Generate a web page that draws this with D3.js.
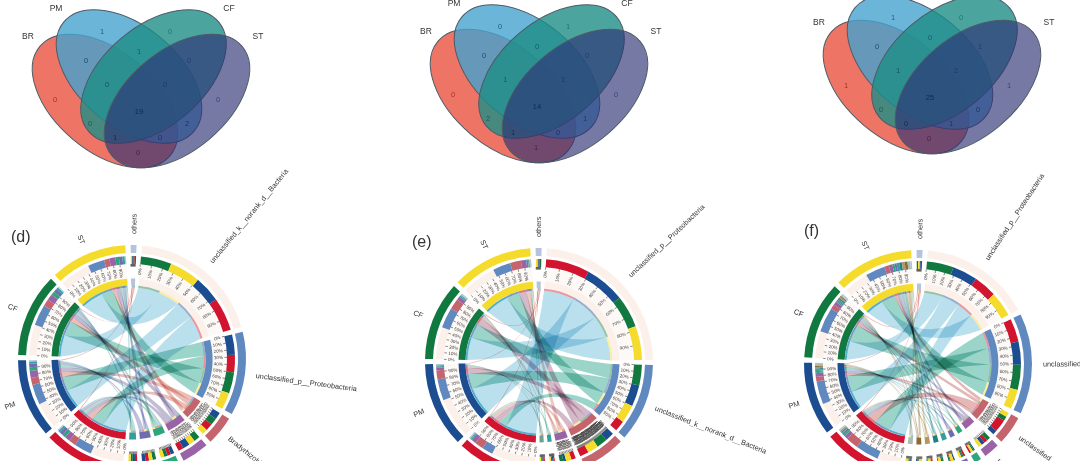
<!DOCTYPE html>
<html><head><meta charset="utf-8">
<style>html,body{margin:0;padding:0;background:#fff}svg{display:block;filter:blur(.35px)}text{font-family:"Liberation Sans",Arial,sans-serif}</style>
<script src="https://cdn.jsdelivr.net/npm/d3@7"></script></head><body>
<svg id="c" width="1080" height="461" viewBox="0 0 1080 461"></svg>
<script>
// ---------- data ----------
const sampleNames = ["BR","PM","CF","ST"];
const sampleColors = ["#d2142e","#1b4d90","#11793f","#f5dc2c"];
// Venn region values, order: BR, PM, CF, ST, BR&PM, PM&CF, CF&ST, BR&PM&CF, PM&CF&ST, all, BR&CF, PM&ST, BR&CF&ST, BR&PM&ST, BR&ST
const vennA = [0,1,0,0,0,1,0,0,0,19,0,2,1,0,0];
const vennB = [0,0,1,0,0,0,0,1,1,14,2,1,1,0,1];
const vennC = [1,1,0,1,0,0,1,1,2,25,0,0,0,1,0];
const vennFill = ["#ea523e","#45a3ce","#1e8d86","#2e3175"];

const taxaD = ["unclassified_k__norank_d__Bacteria","unclassified_p__Proteobacteria","Bradyrhizobium","Methylobacterium","Sphingomonas","Burkholderia","Rhodoplanes","others"];
const taxaE = ["unclassified_p__Proteobacteria","unclassified_k__norank_d__Bacteria","Bradyrhizobium","Sphingomonas","Burkholderia","Rhodoplanes","others"];
const taxaF = ["unclassified_p__Proteobacteria","unclassified_p__Actinobacteria","unclassified_c__Alphaproteobacteria","unclassified_o__Rhizobiales","Bradyrhizobium","Sphingomonas","Burkholderia","Rhodoplanes","Mycobacterium","Acidothermus","Bacillus","others"];
// flows: rows BR, PM, CF, ST; columns follow the taxa list
const flowsD = [[19,10,4,3,2,2,1.25,.75],[15,11.5,4,4,2,2,1.25,.75],[17.5,12,4,3.5,2,2,1.25,.75],[17.5,9.5,3,3.5,2,2,1.25,.75]];
const flowsE = [[24.5,6,5,2.5,.7,.7,.6],[22.5,12,5,1.5,.7,.7,.6],[18,11.5,6,2,.7,.7,.9],[19,10,6,3,.9,.9,.9]];
const flowsF = [[13,13,7,2,1,1,.5,.5,.4,.4,.4,.7],[14,13,2.5,2,.6,.6,.8,.7,.8,.8,.8,.7],[15,14,2.5,2,.7,.7,.7,.8,.7,.7,.7,.8],[14,11,2.5,2,1.2,1.2,1.5,1.5,1.6,1.6,1.6,.8]];
// stacking order of samples in the taxon rings (indices into sampleNames)
const stackD = [[2,3,1,0],[1,0,2,3],[1,2,0,3],[2,3,1,0],[1,0,2,3],[2,3,0,1],[0,1,2,3],[3,1,0,2]];
const stackE = [[0,1,2,3],[2,1,3,0],[1,2,3,0],[0,3,1,2],[0,1,2,3],[0,1,2,3],[3,1,0,2]];
const stackF = [[2,1,0,3],[0,1,2,3],[3,2,0,1],[2,0,1,3],[1,2,3,0],[0,2,1,3],[1,3,0,2],[2,1,3,0],[0,1,3,2],[3,0,2,1],[1,0,2,3],[2,3,1,0]];
const taxaColorsD = ["#fcf1ea","#6089bf","#c4656e","#9b63a7","#2ea57c","#6f6db0","#2f9fa0","#b5c4dc"];
const taxaColorsE = ["#fcf1ea","#6089bf","#c4656e","#9b63a7","#2f9fa0","#6f9f8f","#b5c4dc"];
const taxaColorsF = ["#fcf1ea","#6089bf","#c4656e","#9b63a7","#2ea57c","#6f6db0","#2f9fa0","#1f7f86","#b79463","#8a6b35","#a9bdb4","#b5c4dc"];
const ribbonD = ["#a9d7e9","#82c9bc","#e6aea6","#b3abcb","#a4d2c8","#aeb2d6","#9fd0d0","#e9a8a0"];
const ribbonE = ["#a9d7e9","#82c9bc","#c9a9bb","#e8bcb4","#a8d6cc","#a4c8bc","#e9a8a0"];
const ribbonF = ["#a9d7e9","#82c9bc","#dea6a6","#b3abcb","#a4d2c8","#aeb2d6","#9fd0d0","#8ec0c4","#d8c8a8","#c8b898","#c2d2ca","#e9a8a0"];
const denseTaxonE = 2;

// ---------- layout ----------
const svg = d3.select("#c");
const vennEllipses = [{cx:105,cy:101,a:85,b:50,t:40},{cx:129,cy:76.5,a:85,b:50,t:40},{cx:153.5,cy:76.5,a:85,b:50,t:-40},{cx:177,cy:101,a:85,b:50,t:-40}];
const vennSpots = [[55,99],[102,31],[170,31],[218,99],[86,60],[139,51],[189,60],[107,84],[165,84],[139,111],[90,123],[187,123],[115,137],[160,137],[138,152]];
const vennInk = ["#a83228","#1f5f88","#1a7a72","#3f3f78","#1f4a70","#145f66","#1f3f70","#145560","#1a3a68","#16264e","#1f5a50","#1a3568","#16264e","#1a2f5e","#4a1f45"];
const vennTitles = [[28,36],[56,8],[229,8],[258,36]];
function venn(values,dx,dy){
  const g = svg.append("g").attr("transform",`translate(${dx},${dy})`);
  g.selectAll("ellipse").data(vennEllipses).join("ellipse")
    .attr("transform",d=>`translate(${d.cx},${d.cy}) rotate(${d.t})`)
    .attr("rx",d=>d.a).attr("ry",d=>d.b)
    .attr("fill",(d,i)=>vennFill[i]).attr("fill-opacity",(d,i)=>i===3?.65:.8)
    .attr("stroke","#4d5a66").attr("stroke-width",1);
  g.selectAll("text.v").data(values).join("text").attr("class","v")
    .attr("x",(d,i)=>vennSpots[i][0]).attr("y",(d,i)=>vennSpots[i][1]+2.7)
    .attr("text-anchor","middle").attr("font-size",7.5).attr("fill",(d,i)=>vennInk[i]).text(d=>d);
  g.selectAll("text.n").data(sampleNames).join("text").attr("class","n")
    .attr("x",(d,i)=>vennTitles[i][0]).attr("y",(d,i)=>vennTitles[i][1]+3)
    .attr("text-anchor","middle").attr("font-size",8.5).attr("fill","#333").text(d=>d);
}
venn(vennA,0,0); venn(vennB,398,-5); venn(vennC,791,-14);

const R = {rib:71.5, rimIn:71.5, rimOut:73.5, innerIn:73.5, innerOut:80.5, bandIn:80.5, bandOut:94, tickIn:92.5, tickOut:95, stackIn:95, stackOut:103, outerIn:106, outerOut:114, label:91};
const rad = d=>d*Math.PI/180;
const arc = d3.arc();
function ring(g,a0,a1,r0,r1,fill,op){
  g.append("path").attr("d",arc({innerRadius:r0,outerRadius:r1,startAngle:rad(a0),endAngle:rad(a1)}))
   .attr("fill",fill).attr("fill-opacity",op==null?1:op);
}
const polar=(a,r)=>[r*Math.sin(rad(a)),-r*Math.cos(rad(a))];
function band(s0,s1,t0,t1,r,k){
  const p=d3.path();
  const ctrl=(a,b)=>{const A=polar(a,r),B=polar(b,r);return [(A[0]+B[0])/2*k,(A[1]+B[1])/2*k];};
  const S0=polar(s0,r),T0=polar(t0,r);
  p.moveTo(S0[0],S0[1]);
  p.arc(0,0,r,rad(s0)-Math.PI/2,rad(s1)-Math.PI/2);
  let c=ctrl(s1,t0); p.quadraticCurveTo(c[0],c[1],T0[0],T0[1]);
  p.arc(0,0,r,rad(t0)-Math.PI/2,rad(t1)-Math.PI/2);
  c=ctrl(t1,s0); p.quadraticCurveTo(c[0],c[1],S0[0],S0[1]);
  p.closePath();
  return p.toString();
}
function chordPanel(cx,cy,start,letter,lx,ly,taxa,flows,stack,colors,ribbons,dense){
  const g = svg.append("g").attr("transform",`translate(${cx},${cy})`);
  const nT = taxa.length, gap = 2.7;
  const rowSum = flows.map(r=>d3.sum(r));
  const colSum = taxa.map((_,j)=>d3.sum(flows,r=>r[j]));
  const total = d3.sum(rowSum)*2;
  const ang = d3.scaleLinear().domain([0,total]).range([0,360-(nT+4)*gap]);
  let pos = start; const sec = [];
  const push=(name,kind,idx,val,color)=>{const a0=pos,a1=pos+ang(val);sec.push({name,kind,idx,val,color,a0,a1});pos=a1+gap;};
  d3.range(nT-1).forEach(j=>push(taxa[j],"taxon",j,colSum[j],colors[j]));
  sampleNames.forEach((s,i)=>push(s,"sample",i,rowSum[i],sampleColors[i]));
  push(taxa[nT-1],"taxon",nT-1,colSum[nT-1],colors[nT-1]);
  const secT = j=>sec.find(s=>s.kind==="taxon"&&s.idx===j), secS=i=>sec.find(s=>s.kind==="sample"&&s.idx===i);
  const fl = [];
  sampleNames.forEach((s,i)=>{let p=secS(i).a0;taxa.forEach((t,j)=>{fl.push({i,j,v:flows[i][j],s0:p,s1:p+ang(flows[i][j])});p+=ang(flows[i][j]);});});
  taxa.forEach((t,j)=>{let p=secT(j).a0;stack[j].forEach(i=>{const f=fl.find(x=>x.i===i&&x.j===j);f.t0=p;f.t1=p+ang(f.v);p=f.t1;});});
  sec.forEach(s=>{if(s.a1-s.a0>9)ring(g,s.a0,s.a1,R.bandIn,R.bandOut,"#fdf9f6");});
  const gr = g.append("g").style("isolation","isolate");
  gr.selectAll("path").data(fl.slice().sort((a,b)=>a.j-b.j)).join("path")
    .attr("d",f=>band(f.s0,f.s1,f.t0,f.t1,R.rib,.28))
    .attr("fill",f=>ribbons[f.j]).attr("fill-opacity",.8)
    .style("mix-blend-mode","multiply");
  sec.forEach(s=>{
    ring(g,s.a0,s.a1,R.outerIn,R.outerOut,s.color);
    ring(g,s.a0,s.a1,R.innerIn,R.innerOut,s.color);
  });
  fl.forEach(f=>{
    ring(g,f.s0,f.s1,R.stackIn,R.stackOut,colors[f.j]);
    ring(g,f.t0,f.t1,R.stackIn,R.stackOut,sampleColors[f.i]);
    ring(g,f.s0,f.s1,R.rimIn,R.rimOut,f.j===0?"#35a0c0":colors[f.j],.85);
    ring(g,f.t0,f.t1,R.rimIn,R.rimOut,sampleColors[f.i],.45);
  });
  sec.forEach(s=>{
    const span=s.a1-s.a0, p=d3.scaleLinear().domain([0,100]).range([s.a0,s.a1]);
    const step=(dense&&s.kind==="taxon"&&s.idx===dense)?2:10;
    const pts=d3.range(0,100,step);
    const gt=g.append("g");
    gt.selectAll("line").data(span>2?pts:[]).join("line")
      .attr("transform",d=>`rotate(${p(d)})`).attr("y1",-R.tickIn).attr("y2",-R.tickOut)
      .attr("stroke","#222").attr("stroke-width",.5);
    if(span>9){
      gt.selectAll("text").data(pts).join("text")
        .attr("transform",d=>{const a=p(d);const q=polar(a,R.label);const rot=a%360>180?a+90:a-90;return `translate(${q[0]},${q[1]}) rotate(${rot})`;})
        .attr("text-anchor",d=>p(d)%360>180?"start":"end").attr("dy","0.35em")
        .attr("font-size",4.5).attr("fill","#444").text(d=>d+"%");
    }
  });
  const mid=s=>{const a=(s.a0+s.a1)/2%360;return a>358?a-360:a;};
  g.selectAll("text.s").data(sec).join("text").attr("class","s")
    .attr("transform",s=>{const a=mid(s),r=125;const q=polar(a,r);const rot=a>180?a+90:a-90;return `translate(${q[0]},${q[1]}) rotate(${rot})`;})
    .attr("text-anchor",s=>mid(s)>180?"end":"start").attr("dy","0.35em")
    .attr("font-size",7.3).attr("fill","#333").text(s=>s.name);
  svg.append("text").attr("x",lx).attr("y",ly).attr("font-size",16).attr("fill","#333").text(letter);
}
chordPanel(132,359,5,"(d)",11,242,taxaD,flowsD,stackD,taxaColorsD,ribbonD,null);
chordPanel(539,362,4,"(e)",412,247,taxaE,flowsE,stackE,taxaColorsE,ribbonE,denseTaxonE);
chordPanel(918,364,5,"(f)",804,236,taxaF,flowsF,stackF,taxaColorsF,ribbonF,null);
</script></body></html>
